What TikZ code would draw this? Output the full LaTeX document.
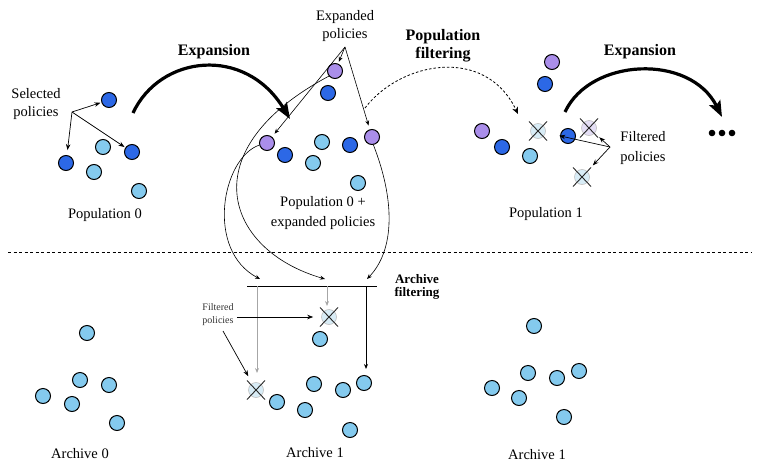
\documentclass[tikz,border=0pt]{standalone}
\usepackage{fontspec}
\setmainfont{Liberation Serif}
\usetikzlibrary{arrows.meta}
\definecolor{dkblue}{RGB}{44,104,230}
\definecolor{ltblue}{RGB}{132,202,238}
\definecolor{purp}{RGB}{170,142,234}
\definecolor{ltfade}{RGB}{216,236,246}
\definecolor{pufade}{RGB}{228,222,245}
\newcommand\crossit[1]{\draw[crossln] ([shift={(-9,-9.5)}]#1.center) -- ([shift={(9,9.5)}]#1.center) ([shift={(-9,9.5)}]#1.center) -- ([shift={(9,-9.5)}]#1.center);}
\begin{document}
\begin{tikzpicture}[x=1pt,y=-1pt,
  dot/.style={circle,draw=black,line width=1pt,minimum size=15pt,inner sep=0pt},
  dk/.style={dot,fill=dkblue},
  lt/.style={dot,fill=ltblue},
  pu/.style={dot,fill=purp},
  gonel/.style={circle,draw=black!25,line width=0.6pt,minimum size=15pt,inner sep=0pt,fill=ltfade},
  gonep/.style={circle,draw=black!25,line width=0.6pt,minimum size=15pt,inner sep=0pt,fill=pufade},
  crossln/.style={line width=0.9pt,black!85},
  lab/.style={font=\fontsize{14.5}{18}\selectfont,align=center,inner sep=0pt},
  labw/.style={font=\fontsize{14.5}{20}\selectfont,align=center,inner sep=0pt},
  blab/.style={font=\bfseries\fontsize{16}{18}\selectfont,align=center,inner sep=0pt},
  sblab/.style={font=\bfseries\fontsize{13}{13.5}\selectfont,align=center,inner sep=0pt},
  tlab/.style={font=\fontsize{10}{13}\selectfont,align=center,inner sep=0pt,text=black!80},
  thinarr/.style={-{Stealth[length=6pt,width=4.5pt]},line width=0.7pt},
  curvarr/.style={-{Stealth[length=5pt,width=4pt]},line width=0.6pt},
  exparr/.style={-{Stealth[length=16pt,width=12pt,inset=3pt]},line width=3.2pt},
  sepline/.style={line width=0.8pt,dash pattern=on 3pt off 2.5pt}
]
\useasboundingbox (0,0) rectangle (762,463);

% ---------- Population 0 ----------
\node[dk] (s1) at (109,100) {};
\node[dk] (s2) at (66,163) {};
\node[dk] (s3) at (132,152) {};
\node[lt] (p01) at (103,147) {};
\node[lt] (p02) at (94,172) {};
\node[lt] (p03) at (139,191) {};
\node[lab] (sel) at (36,104) {Selected\\policies};
\coordinate (selO) at (72,112);
\draw[thinarr,shorten >=1pt] (selO) -- (s1);
\draw[thinarr,shorten >=5pt] (selO) -- (s2);
\draw[thinarr,shorten >=1pt] (selO) -- (s3);
\node[lab] (pop0) at (105,215) {Population 0};

% ---------- Expansion 1 ----------
\coordinate (ex1s) at (133,113);
\coordinate (ex1e) at (290,119);
\draw[exparr] (ex1s) .. controls (160,55) and (245,45) .. (ex1e);
\node[blab] (exl1) at (214,52) {Expansion};

% ---------- Population 0 + expanded ----------
\node[pu] (e1) at (335,71) {};
\node[dk] (m1) at (328,93) {};
\node[pu] (e2) at (267,143) {};
\node[dk] (m2) at (285,155) {};
\node[lt] (m3) at (322,142) {};
\node[dk] (m4) at (350,145) {};
\node[pu] (e3) at (372,137) {};
\node[lt] (m5) at (313,163) {};
\node[lt] (m6) at (358,183) {};
\node[lab] (expl) at (345,26) {Expanded\\policies};
\coordinate (expO) at (345,47);
\draw[curvarr,shorten >=2pt] (expO) -- (e1);
\draw[curvarr,shorten >=4pt] (expO) -- (e2);
\draw[curvarr,shorten >=4pt] (expO) -- (e3);
\node[labw] (pop0e) at (323,213) {Population 0 +\\expanded policies};

% ---------- Archive filtering bar ----------
\coordinate (barL) at (247,286);
\coordinate (barR) at (377,286);
\draw[line width=0.8pt] (barL) -- (barR);
\coordinate (inL) at (260,279);
\coordinate (inM) at (325,279);
\coordinate (inR) at (367,279);
\draw[curvarr] (e2.195) .. controls (222,158) and (205,250) .. (inL);
\draw[curvarr] (e1.220) .. controls (190,150) and (225,250) .. (inM);
\draw[curvarr] (e3.280) .. controls (395,200) and (395,250) .. (inR);
\node[sblab] (arf) at (417,287) {Archive\\filtering};

% ---------- Separator ----------
\coordinate (sepL) at (8,252);
\coordinate (sepR) at (752,252);
\draw[sepline] (sepL) -- (sepR);

% ---------- Population filtering ----------
\node[blab] (pfl) at (443,46) {Population\\filtering};
\coordinate (pfe) at (518,114);
\draw[-{Stealth[length=7pt,width=6pt]},line width=0.8pt,dash pattern=on 2.5pt off 2pt]
  (e1.east |- 0,108) ++(22,0) .. controls (400,62) and (485,45) .. (pfe);

% ---------- Population 1 ----------
\node[pu] (q1) at (552,62) {};
\node[dk] (q2) at (545,84) {};
\node[pu] (q3) at (482,131) {};
\node[dk] (q4) at (502,147) {};
\node[lt] (q5) at (530,156) {};
\node[gonel] (f1) at (538,131) {};
\crossit{f1}
\node[dk] (q6) at (568,136) {};
\node[gonep] (f2) at (589,128) {};
\crossit{f2}
\node[gonel] (f3) at (582,177) {};
\crossit{f3}
\node[lab] (pop1) at (546,214) {Population 1};
\node[labw] (filr) at (643,148) {Filtered\\policies};
\coordinate (filO) at (610,147);
\draw[thinarr,shorten >=14pt] (filO) -- (f1);
\draw[thinarr,shorten >=6pt] (filO) -- (f2);
\draw[thinarr,shorten >=8pt] (filO) -- (f3);

% ---------- Expansion 2 ----------
\coordinate (ex2s) at (565,112);
\coordinate (ex2e) at (722,117);
\draw[exparr] (ex2s) .. controls (590,58) and (690,53) .. (ex2e);
\node[blab] (exl2) at (640,52) {Expansion};
\fill (712,133) circle (3.3pt) (722,133) circle (3.3pt) (732,133) circle (3.3pt);

% ---------- Archive 0 ----------
\node[lt] (a01) at (87,333) {};
\node[lt] (a02) at (80,380) {};
\node[lt] (a03) at (109,385) {};
\node[lt] (a04) at (43,396) {};
\node[lt] (a05) at (72,404) {};
\node[lt] (a06) at (117,423) {};
\node[lab] (arc0) at (80,454) {Archive 0};

% ---------- Archive 1 (middle) ----------
\node[gonel] (g1) at (329,317) {};
\crossit{g1}
\node[gonel] (g2) at (256,390) {};
\crossit{g2}
\node[lt] (a11) at (320,339) {};
\node[lt] (a12) at (277,402) {};
\node[lt] (a13) at (314,384) {};
\node[lt] (a14) at (305,410) {};
\node[lt] (a15) at (343,390) {};
\node[lt] (a16) at (364,383) {};
\node[lt] (a17) at (350,430) {};
\coordinate (oL) at (257,286);
\coordinate (oM) at (327,286);
\coordinate (oR) at (366,286);
\draw[curvarr,black!35,line width=0.9pt] (oL) -- (oL |- 0,373);
\draw[curvarr,black!35,line width=0.9pt] (oM) -- (oM |- 0,306);
\draw[curvarr,line width=0.9pt] (oR) -- (oR |- 0,369);
\node[tlab] (film) at (218,315) {Filtered\\policies};
\draw[thinarr,shorten >=8pt] (film.east |- g1) ++(3,0) -- (g1);
\draw[thinarr,shorten >=8pt] (223,331) -- (g2);
\node[lab] (arc1) at (315,453) {Archive 1};

% ---------- Archive 1 (right) ----------
\node[lt] (b11) at (534,326) {};
\node[lt] (b12) at (528,373) {};
\node[lt] (b13) at (557,378) {};
\node[lt] (b14) at (579,371) {};
\node[lt] (b15) at (492,388) {};
\node[lt] (b16) at (519,398) {};
\node[lt] (b17) at (564,417) {};
\node[lab] (arc1r) at (537,455) {Archive 1};
\end{tikzpicture}
\end{document}
